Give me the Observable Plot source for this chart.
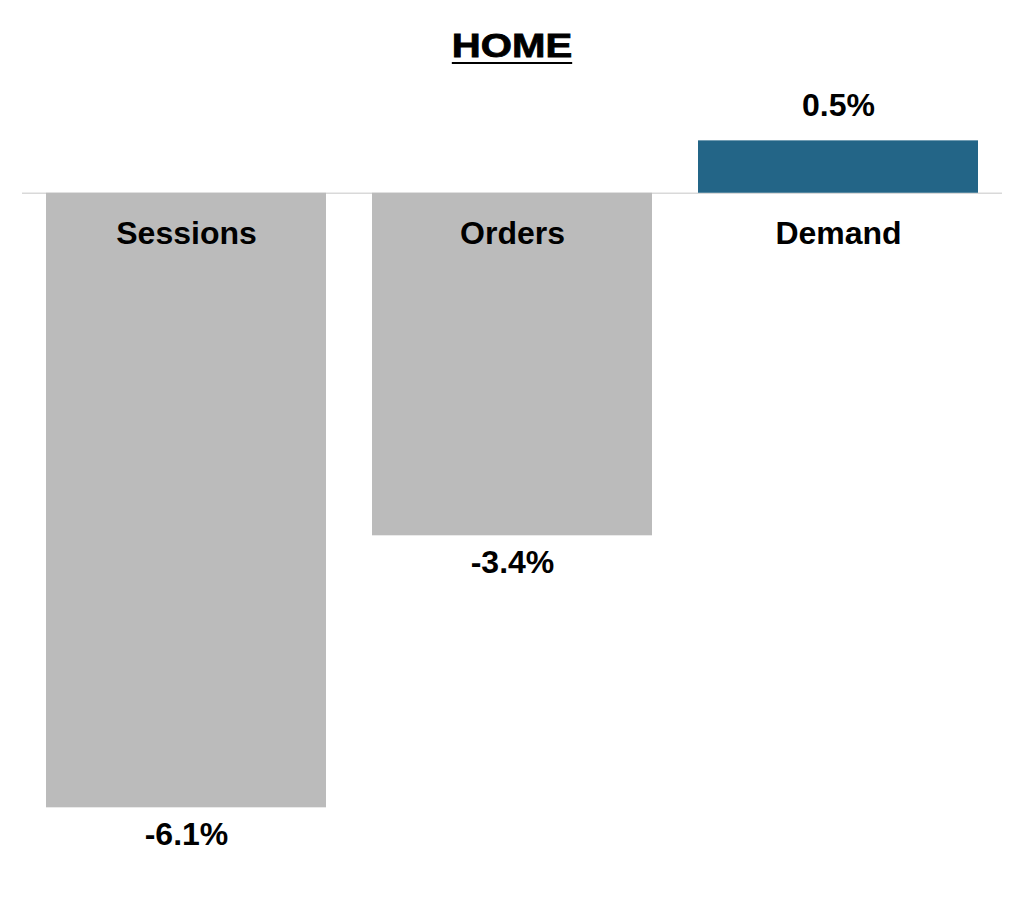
<!DOCTYPE html>
<html>
<head>
<meta charset="utf-8">
<script src="https://cdn.jsdelivr.net/npm/d3@7"></script>
<script src="https://cdn.jsdelivr.net/npm/@observablehq/plot@0.6"></script>
<style>
  body { margin: 0; background: #fff; }
  #title {
    height: 80px;
    box-sizing: border-box;
    padding-top: 28px;
    text-align: center;
    font: bold 34px/34px "Liberation Sans", Arial, sans-serif;
  }
  #title span {
    display: inline-block;
    transform: scaleX(1.18);
    -webkit-text-stroke: 0.8px #000;
    text-decoration: underline;
    text-decoration-thickness: 2px;
    text-underline-offset: 5px;
  }
</style>
</head>
<body>
<div id="title"><span>HOME</span></div>
<div id="chart"></div>
<script>
// chart data
const categories = ["Sessions", "Orders", "Demand"];
const values = [-6.1, -3.4, 0.52];
const labels = ["-6.1%", "-3.4%", "0.5%"];

const rows = categories.map((c, i) => ({category: c, value: values[i], label: labels[i]}));
const neg = rows.filter(d => d.value < 0);
const pos = rows.filter(d => d.value >= 0);

const textStyle = {fontSize: 32, fontWeight: "bold", fill: "#000"};

const chart = Plot.plot({
  width: 1024,
  height: 844,
  marginLeft: 22,
  marginRight: 22,
  marginTop: 12,
  marginBottom: 26,
  style: {fontFamily: "'Liberation Sans', Arial, sans-serif", background: "#fff"},
  x: {type: "band", domain: categories, paddingInner: 0.14, paddingOuter: 0.07, axis: null},
  y: {domain: [-7, 1], axis: null},
  marks: [
    Plot.ruleY([0], {stroke: "#d9d9d9", strokeWidth: 1.5}),
    Plot.barY(rows, {x: "category", y: "value", fill: d => d.value < 0 ? "#bbbbbb" : "#236587"}),
    // category names just under the zero line
    Plot.text(rows, {x: "category", y: () => 0, text: "category", lineAnchor: "bottom", dy: 51, ...textStyle}),
    // value labels
    Plot.text(neg, {x: "category", y: "value", text: "label", lineAnchor: "top", dy: 14, ...textStyle}),
    Plot.text(pos, {x: "category", y: "value", text: "label", lineAnchor: "bottom", dy: -25, ...textStyle})
  ]
});

document.querySelector("#chart").append(chart);
</script>
</body>
</html>
